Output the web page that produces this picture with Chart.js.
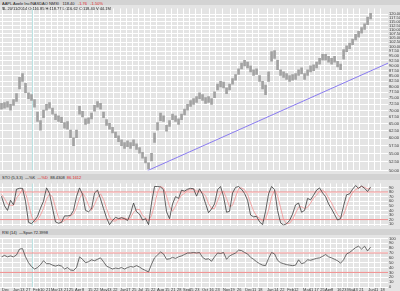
<!DOCTYPE html>
<html>
<head>
<meta charset="utf-8">
<script src="https://cdn.jsdelivr.net/npm/chart.js@4.4.0/dist/chart.umd.min.js"></script>
<style>
html, body { margin: 0; padding: 0; width: 400px; height: 291px; overflow: hidden; background: #e4e4e4; font-family: "Liberation Sans", Arial, sans-serif; }
canvas { position: absolute; left: 0; }
.row { position: absolute; left: 0; width: 400px; overflow: hidden; }
.band { background: #d3d3d3; }
.txt { position: absolute; left: 2px; top: 0.5px; font-size: 8px; line-height: 10px; color: #222; white-space: nowrap; transform: scale(0.5); transform-origin: 0 0; }
.red { color: #e02828; }
</style>
</head>
<body>
<div class="row band" style="top:0;height:5px"><span class="txt">AAPL Apple Inc(NASDAQ NMS) &nbsp; 118.40 &nbsp; <span class="red">-1.76 &nbsp; -1.50%</span></span></div>
<canvas id="main" width="400" height="169" style="top:5px"></canvas>
<div class="row" style="top:5px;height:5px"><span class="txt">$L 20/11/2014 O:116.85 H:118.77 L:116.62 C:118.40 V:44.1M</span></div>
<div class="row band" style="top:174px;height:6px"><span class="txt" style="top:1px">STO (5,3,3) &nbsp;&mdash;%K &nbsp;<span class="red">&mdash;%D</span> &nbsp;88.4308 &nbsp;<span class="red">86.1612</span></span></div>
<canvas id="sto" width="400" height="49" style="top:180px"></canvas>
<div class="row band" style="top:229px;height:6px"><span class="txt" style="top:1px">RSI (14) &nbsp;&mdash;Span 72.3998</span></div>
<canvas id="rsi" width="400" height="56" style="top:235px"></canvas>

<script>
// Price bars (high / low), one bar per ~3 trading days

const highs = [72.8, 73.2, 73.6, 72.4, 74.4, 76.9, 84.2, 86.0, 81.5, 77.3,
  76.5, 74.4, 69.4, 66.1, 70.1, 72.4, 73.2, 70.9, 68.6, 67.9,
  67.5, 65.4, 65.8, 62.7, 60.1, 62.7, 71.6, 69.7, 66.8, 67.2,
  69.0, 72.0, 73.6, 72.8, 69.4, 66.5, 65.1, 63.7, 62.0, 60.7,
  59.4, 58.5, 59.1, 58.5, 59.4, 58.1, 56.9, 55.4, 53.9, 52.2,
  55.1, 61.7, 65.4, 69.0, 67.9, 64.4, 66.1, 68.6, 67.9, 66.8,
  68.6, 70.5, 72.4, 74.0, 74.8, 75.6, 77.3, 76.5, 75.2, 75.6,
  74.8, 77.7, 81.1, 82.4, 82.0, 79.4, 81.1, 83.7, 85.6, 88.3,
  91.2, 92.7, 91.7, 89.8, 87.9, 88.3, 85.1, 82.4, 80.7, 86.9,
  97.3, 97.9, 92.7, 87.9, 86.9, 86.0, 85.1, 85.6, 86.0, 87.9,
  88.8, 86.0, 87.9, 89.8, 90.3, 91.7, 93.7, 95.8, 95.8, 94.7,
  93.7, 94.7, 92.2, 90.7, 98.4, 100.5, 102.1, 104.4, 107.2, 109.0,
  111.3, 113.7, 118.1, 120.6];

const lows = [70.5, 70.9, 71.3, 70.1, 72.0, 73.6, 79.0, 82.4, 77.3, 74.8,
  74.0, 71.3, 65.8, 62.7, 67.2, 70.1, 70.9, 68.6, 66.5, 65.8,
  65.4, 63.4, 63.0, 60.1, 57.5, 60.1, 68.6, 67.5, 64.7, 65.1,
  66.8, 69.7, 71.3, 70.5, 67.2, 64.4, 63.0, 61.7, 60.1, 58.8,
  57.5, 56.6, 57.2, 56.6, 57.5, 56.3, 55.1, 53.6, 52.2, 50.5,
  52.8, 58.5, 62.7, 66.1, 65.8, 62.3, 64.0, 66.5, 65.8, 64.7,
  66.5, 68.3, 70.1, 71.6, 72.4, 73.2, 74.8, 74.0, 72.8, 73.2,
  72.4, 75.2, 78.5, 79.8, 79.4, 76.9, 78.5, 81.1, 82.9, 85.6,
  88.3, 89.8, 88.8, 86.9, 85.1, 85.6, 82.4, 79.0, 76.5, 82.4,
  92.2, 93.7, 87.9, 85.1, 84.2, 83.3, 82.4, 82.9, 83.3, 85.1,
  86.0, 83.3, 85.1, 86.9, 87.4, 88.8, 90.7, 92.7, 92.7, 91.7,
  90.7, 91.7, 89.3, 87.9, 93.2, 97.3, 98.9, 101.1, 103.8, 105.5,
  107.8, 110.1, 113.1, 116.8];

// Stochastic %K and %D

const stoK = [71, 50, 40, 62, 52, 86, 88, 88, 60, 14,
  11, 18, 27, 45, 60, 89, 77, 45, 15, 12,
  14, 28, 28, 29, 40, 70, 89, 75, 40, 37,
  43, 78, 84, 65, 44, 24, 9, 18, 25, 22,
  24, 22, 18, 33, 56, 37, 32, 19, 22, 9,
  56, 92, 92, 91, 85, 37, 22, 54, 70, 66,
  84, 82, 86, 88, 87, 71, 87, 75, 55, 35,
  43, 54, 85, 92, 70, 36, 38, 78, 90, 92,
  86, 77, 62, 30, 26, 27, 15, 9, 38, 76,
  92, 85, 40, 13, 8, 11, 18, 32, 52, 56,
  36, 40, 66, 63, 73, 84, 89, 78, 70, 54,
  43, 31, 19, 22, 50, 74, 76, 86, 94, 88,
  93, 88, 81, 91];

const stoD = [75, 66, 54, 51, 51, 67, 75, 87, 79, 54,
  28, 14, 19, 30, 44, 65, 75, 70, 46, 24,
  14, 18, 23, 28, 32, 46, 66, 78, 68, 51,
  40, 53, 68, 76, 64, 44, 26, 17, 17, 22,
  24, 23, 21, 24, 36, 42, 42, 29, 24, 17,
  29, 52, 80, 92, 89, 71, 48, 38, 49, 63,
  73, 77, 84, 85, 87, 82, 82, 78, 72, 55,
  44, 44, 61, 77, 82, 66, 48, 51, 69, 87,
  89, 85, 75, 56, 39, 28, 23, 17, 21, 41,
  69, 84, 72, 46, 20, 11, 12, 20, 34, 47,
  48, 44, 47, 56, 67, 73, 82, 84, 79, 67,
  56, 43, 31, 24, 30, 49, 67, 79, 85, 89,
  92, 90, 87, 87];

// RSI (14)

const rsi = [62, 65, 62, 64, 62, 66, 78, 79, 62, 50,
  42, 37, 40, 46, 54, 48, 48, 45, 43, 45,
  43, 37, 40, 35, 34, 40, 62, 57, 50, 52,
  56, 54, 57, 60, 52, 43, 40, 37, 39, 38,
  40, 37, 40, 42, 41, 44, 41, 37, 34, 31,
  47, 60, 66, 72, 68, 57, 58, 61, 59, 62,
  64, 67, 70, 70, 71, 70, 71, 61, 57, 58,
  53, 62, 70, 69, 71, 57, 64, 67, 70, 76,
  75, 71, 68, 61, 57, 52, 48, 45, 44, 59,
  71, 68, 55, 50, 48, 46, 45, 44, 45, 56,
  48, 50, 56, 55, 57, 59, 60, 63, 67, 62,
  60, 57, 54, 49, 56, 68, 71, 76, 81, 84,
  78, 84, 74, 82];

// Trendline (bar index -> price)
const trendX = [48.7, 128.8];
const trendY = [50.0, 91.2];

// Marker line (bar index)
const markerAt = 10.3;

// Axis ticks
const priceTicks = [50, 52.5, 55, 57.5, 60, 62.5, 65, 67.5, 70, 72.5, 75, 77.5, 80, 82.5,
  85, 87.5, 90, 92.5, 95, 97.5, 100, 102.5, 105, 107.5, 110, 112.5, 115, 117.5, 120];
const stoTicks = [10, 20, 30, 40, 50, 60, 70, 80, 90];
const rsiTicks = [0, 10, 20, 30, 40, 50, 60, 70, 80, 90, 100];
const stoLevels = [80, 20];
const rsiLevels = [70, 30];

const tickAt = [0.2, 3.8, 6.2, 8.2, 10.5, 12.8, 14.8, 16.5, 18.8, 20.8, 22.5, 24.5, 26.8, 28.8, 30.8,
  32.8, 35.2, 37.2, 39.5, 41.5, 43.5, 45.5, 47.8, 49.8, 51.8, 54.5, 56.5, 58.5, 60.5, 62.5, 64.5,
  66.8, 69.2, 71.2, 73.8, 76.2, 78.5, 81.2, 83.5, 85.5, 88.5, 90.8, 92.8, 95.2, 97.5, 100.5, 102.5,
  104.2, 106.2, 107.8, 109.8, 111.8, 113.5, 115.2, 117.2, 119.2, 122.2, 124.2, 126.2];
const tickText = ["Dec", "Jan", "13", "27", "Feb", "10", "21", "Mar", "13", "21", "25", "Apr", "8", "15", "22",
  "May", "13", "22", "Jun", "17", "25", "Jul", "15", "22", "Aug", "15", "21", "28", "Sep", "15", "23",
  "Oct", "16", "23", "Nov", "19", "26", "Dec", "11", "18", "Jan", "14", "22", "Feb", "12", "Mar", "11",
  "17", "25", "Apr", "8", "16", "23", "May", "13", "21", "Jun", "11", "18"];

const X_MIN = -0.5, X_MAX = 128.8;
const PRICE_MIN = 50, PRICE_MAX = 123.9;

// Helpers

const xAxis = show => ({
  type: "linear", min: X_MIN, max: X_MAX, offset: false,
  grid: { color: "#ffffff", lineWidth: 1, drawTicks: false, offset: false },
  border: { display: false },
  ticks: {
    display: show, autoSkip: false, maxRotation: 0, align: "start", padding: 0,
    font: { size: 4, family: "Liberation Sans" }, color: "#333",
    callback: (v, i) => tickText[i],
  },
  afterBuildTicks: s => { s.ticks = tickAt.map(v => ({ value: v })); },
  afterFit: s => { s.height = show ? 4 : 0; },
});

const yAxis = (type, min, max, ticks, fmt) => ({
  type: type, position: "right", min: min, max: max, bounds: "data",
  grid: { color: "#ffffff", lineWidth: 1, drawTicks: false },
  border: { display: false },
  ticks: {
    autoSkip: false, padding: 1, color: "#333",
    font: { size: 4, family: "Liberation Sans" },
    callback: v => fmt(v),
  },
  afterBuildTicks: s => { s.ticks = ticks.map(v => ({ value: v })); },
  afterFit: s => { s.width = 12; },
});

const baseOptions = (x, y) => ({
  responsive: false, animation: false, events: [], devicePixelRatio: 1,
  layout: { padding: 0 },
  plugins: { legend: { display: false }, tooltip: { enabled: false } },
  scales: { x: x, y: y },
});

const levelSet = (lv, order) => ({
  type: "line", data: [{ x: X_MIN, y: lv }, { x: X_MAX, y: lv }],
  borderColor: "#f08c8c", borderWidth: 1, pointRadius: 0, order: order,
});

const markerSet = (lo, hi) => ({
  type: "line", data: [{ x: markerAt, y: lo }, { x: markerAt, y: hi }],
  borderColor: "#b8e2e2", borderWidth: 1, pointRadius: 0, order: 9,
});

const series = arr => arr.map((v, i) => ({ x: i, y: v }));

// Price panel

new Chart(document.getElementById("main"), {
  type: "bar",
  data: {
    datasets: [
      {
        type: "line", data: trendX.map((x, i) => ({ x: x, y: trendY[i] })),
        borderColor: "#8a7cf0", borderWidth: 1, pointRadius: 0, order: 1,
      },
      {
        type: "bar", data: highs.map((h, i) => ({ x: i, y: [lows[i], h] })),
        backgroundColor: "#a2a2a2", borderWidth: 0, barThickness: 2, order: 2,
      },
      markerSet(PRICE_MIN, PRICE_MAX),
    ],
  },
  options: baseOptions(xAxis(false), yAxis("logarithmic", PRICE_MIN, PRICE_MAX, priceTicks, v => v.toFixed(2))),
});

// Stochastic panel

new Chart(document.getElementById("sto"), {
  type: "line",
  data: {
    datasets: [
      { data: series(stoK), borderColor: "#3a3a3a", borderWidth: 0.8, pointRadius: 0, order: 1 },
      { data: series(stoD), borderColor: "#f49494", borderWidth: 0.8, pointRadius: 0, order: 2 },
      levelSet(stoLevels[0], 3),
      levelSet(stoLevels[1], 3),
      markerSet(6.9, 98.75),
    ],
  },
  options: baseOptions(xAxis(false), yAxis("linear", 6.9, 98.75, stoTicks, v => String(v))),
});

// RSI panel

new Chart(document.getElementById("rsi"), {
  type: "line",
  data: {
    datasets: [
      { data: series(rsi), borderColor: "#4a4a4a", borderWidth: 0.8, pointRadius: 0, order: 1 },
      levelSet(rsiLevels[0], 3),
      levelSet(rsiLevels[1], 3),
      markerSet(0, 100),
    ],
  },
  options: baseOptions(xAxis(true), yAxis("linear", 0, 100, rsiTicks, v => String(v))),
});
</script>
</body>
</html>
